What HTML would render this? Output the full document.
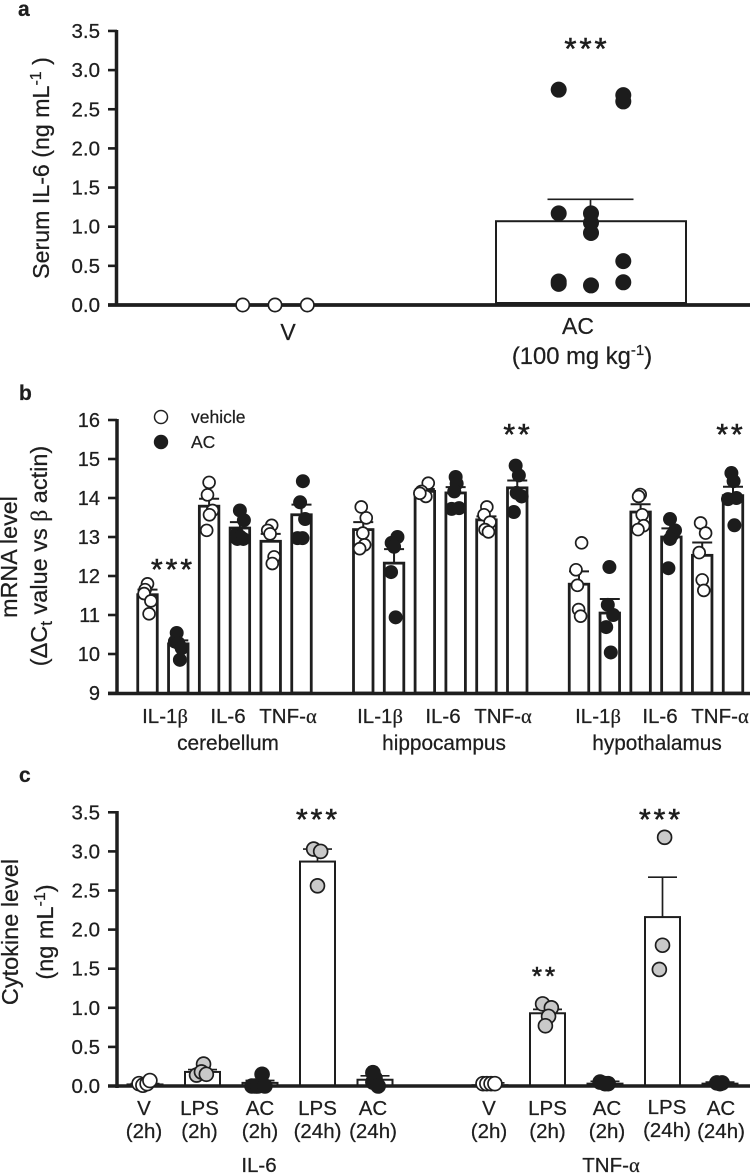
<!DOCTYPE html>
<html lang="en">
<head>
<meta charset="utf-8">
<title>Cytokine levels figure</title>
<style>
html,body{margin:0;padding:0;background:#fff;width:752px;height:1174px;overflow:hidden}
svg{display:block;font-family:"Liberation Sans",sans-serif;fill:#1e1e1e;filter:blur(0.3px)}
text{stroke:#1e1e1e;stroke-width:0.25px}
.gr{font-family:"Liberation Serif",serif}
</style>
</head>
<body>
<svg id="fig" xmlns="http://www.w3.org/2000/svg" width="752" height="1174" viewBox="0 0 752 1174">
  <text x="18" y="16" font-size="21" font-weight="bold">a</text>
  <text x="19" y="400" font-size="21" font-weight="bold">b</text>
  <text x="19" y="782" font-size="21" font-weight="bold">c</text>

  <text transform="translate(49,168) rotate(-90)" text-anchor="middle" font-size="23.2">Serum IL-6 (ng mL<tspan dy="-8" font-size="16">-1</tspan><tspan dy="8"> )</tspan></text>

  <text transform="translate(17,557) rotate(-90)" text-anchor="middle" font-size="23.3">mRNA level</text>
  <text transform="translate(47,556) rotate(-90)" text-anchor="middle" font-size="23.5">(ΔC<tspan dy="5" font-size="17">t</tspan><tspan dy="-5"> value vs </tspan><tspan class="gr">β</tspan> actin)</text>

  <text transform="translate(18,932) rotate(-90)" text-anchor="middle" font-size="23.5">Cytokine level</text>
  <text transform="translate(53,932) rotate(-90)" text-anchor="middle" font-size="23.5">(ng mL<tspan dy="-8" font-size="16">-1</tspan><tspan dy="8">)</tspan></text>

  <g>
    <circle cx="161" cy="417" r="6.5" fill="#fff" stroke="#222" stroke-width="1.5"></circle>
    <text x="191" y="423" font-size="17.5">vehicle</text>
    <circle cx="161" cy="442" r="7.2" fill="#1c1c1c"></circle>
    <text x="191" y="448" font-size="17.5">AC</text>
  </g>
</svg>
<script>
/* Panel a data */
const aTickLabels = ['0.0','0.5','1.0','1.5','2.0','2.5','3.0','3.5'];
const aMeans = [0, 1.07];
const aErrors = [0, 1.35];
const aPointsV = [0, 0, 0];
const aJitterV = [-0.17, 0, 0.17];
const aPointsAC = [2.75, 2.68, 2.6, 1.17, 1.17, 1.05, 0.92, 0.56, 0.3, 0.27, 0.25, 0.29];
const aJitterAC = [-0.17, 0.17, 0.17, -0.17, 0, 0, 0, 0.17, -0.17, -0.17, 0, 0.17];

/* Panel b data */
const bTickLabels = ['9','10','11','12','13','14','15','16'];
const bGroups = ['cerebellum','hippocampus','hypothalamus'];
const bMeans = [11.52,10.26,13.79,13.23,12.89,13.57, 13.19,12.33,14.17,14.13,13.44,14.26, 11.79,11.05,13.64,13.0,12.53,14.06];
const bErrors = [11.65,10.35,13.98,13.38,13.08,13.83, 13.38,12.69,14.23,14.28,13.53,14.45, 12.12,11.41,13.84,13.22,12.86,14.29];
const bPoints = [
  [11.8,11.65,11.55,11.36,11.03],[10.54,10.32,10.28,10.15,9.85],[14.4,14.08,13.68,13.57,13.17],
  [13.68,13.43,13.08,13.0,12.95,12.95],[13.3,13.17,13.08,12.49,12.32],[14.43,13.89,13.46,12.97,12.97],
  [13.77,13.49,13.1,12.8,12.7],[13.0,12.85,12.75,12.1,10.94],[14.38,14.17,14.04,14.12],
  [14.54,14.37,14.17,13.72,13.74],[13.77,13.57,13.38,13.19,13.13],[14.83,14.58,14.13,14.04,13.64],
  [12.85,12.16,11.76,11.14,10.97],[12.23,11.26,11.0,10.69,10.04],[14.09,14.04,13.57,13.29,13.19],
  [13.46,13.17,13.06,12.95,12.2],[13.36,13.1,12.6,11.9,11.63],[14.64,14.43,13.97,14.0,13.3]
];
const bJitter = [
  [0,-0.12,-0.17,0.17,0.08],[-0.08,-0.17,0,0.17,0.08],[0,-0.08,0.17,0.02,-0.12],
  [0,0.2,-0.13,0.03,-0.13,0.17],[0.05,-0.15,-0.03,0.17,0.08],[0.07,-0.07,0.18,-0.2,0.05],
  [-0.1,0.15,-0.02,0.07,-0.18],[0.17,-0.12,0,-0.15,0.08],[0.17,-0.17,0.05,-0.25],
  [0,0.05,-0.07,-0.2,0.17],[0.02,-0.12,0.18,-0.07,0.1],[-0.08,0.08,-0.03,0.22,-0.17],
  [0.13,-0.15,-0.08,-0.02,0.08],[-0.02,-0.1,0.17,-0.18,0.05],[-0.02,-0.1,0.08,0.15,-0.13],
  [-0.07,0.18,0.05,-0.07,-0.15],[-0.08,0.17,-0.15,0,0.08],[-0.08,0.03,-0.25,0.17,0.07]
];

/* Panel c data */
const cTickLabels = ['0.0','0.5','1.0','1.5','2.0','2.5','3.0','3.5'];
const cMeans = [0.02,0.18,0.04,2.87,0.08, 0.01,0.93,0.03,2.16,0.03];
const cErrors = [0.03,0.21,0.07,3.03,0.13, 0.04,0.98,0.06,2.67,0.05];
const cPoints = [
  [0.03,0.01,0.03,0.07],[0.28,0.14,0.18,0.15],[0,0,0,0.15,0],[3.03,3.0,2.56],[0.05,0.1,0.17,0],
  [0.03,0.03,0.03,0.03],[1.05,1.0,0.89,0.77],[0.05,0.03,0.03],[3.18,1.8,1.49],[0.04,0.04,0.03]
];
const cJitter = [
  [-0.17,-0.06,0.06,0.14],[0.03,-0.17,-0.03,0.11],[-0.23,-0.14,-0.06,0.06,0.14],[-0.11,0.09,0],[-0.06,0,-0.06,0.09],
  [-0.2,-0.09,0.03,0.14],[-0.14,0.11,0.03,-0.06],[-0.14,0.09,0],[0.06,0,-0.09],[-0.09,0.06,0]
];
const cXLabels = ['V','LPS','AC','LPS','AC','V','LPS','AC','LPS','AC'];
const cXSubLabels = ['(2h)','(2h)','(2h)','(24h)','(24h)','(2h)','(2h)','(2h)','(24h)','(24h)'];

const svg = document.getElementById('fig');
const NS = 'http://www.w3.org/2000/svg';
const INK = '#1e1e1e';
function mk(tag, attrs, parent) {
  const e = document.createElementNS(NS, tag);
  for (const k in attrs) e.setAttribute(k, attrs[k]);
  (parent || svg).appendChild(e);
  return e;
}

/* Axis functions */
const aY = v => 305 - v * 78.3;
const aX = i => 275 + i * 316;
const bY = v => 693 - (v - 9) * 39;
const bGroupStart = g => 147.5 + g * 215.75;
const bX = i => bGroupStart(Math.floor(i / 6)) + (i % 6) * 30.8;
const cY = v => 1086 - v * 78.2;
const cX = i => i < 5 ? 145 + i * 57.5 : 490 + (i - 5) * 57.5;

function axisLine(x1, y1, x2, y2, w, name) {
  const l = mk('line', {x1: x1, y1: y1, x2: x2, y2: y2, stroke: INK, 'stroke-width': w});
  
  
}
function tickLabel(txt, y, prefix, size) {
  const t = mk('text', {x: 100, y: y + 7, 'text-anchor': 'end', 'font-size': size});
  t.textContent = txt;
  
  
}
function drawBar(cx, w, yTop, yBase, sw, name) {
  const r = mk('rect', {x: cx - w / 2, y: yTop, width: w, height: Math.max(yBase - yTop, 0), fill: '#fff', stroke: INK, 'stroke-width': sw});
  
  
}
function drawError(cx, capW, yBar, yErr, sw, name) {
  const g = mk('g', {stroke: INK, 'stroke-width': sw});
  
  
  mk('line', {x1: cx, x2: cx, y1: yBar, y2: yErr}, g);
  mk('line', {x1: cx - capW / 2, x2: cx + capW / 2, y1: yErr, y2: yErr}, g);
}
function drawPoint(x, y, fill, radius, name) {
  const dark = fill === '#1c1c1c';
  const c = mk('circle', {cx: x, cy: y, r: dark ? radius : radius - 0.85, fill: fill, stroke: dark ? 'none' : INK, 'stroke-width': dark ? 0 : 1.7});
  
  
}
function stars(txt, x, y, size, name) {
  const t = mk('text', {x: x, y: y + size * 0.58, 'text-anchor': 'middle', 'font-size': size, 'letter-spacing': 3});
  t.textContent = txt;
  t.style.strokeWidth = '0.6px';
  
  
}
function label(txt, x, y, size, name) {
  const t = mk('text', {x: x, y: y, 'text-anchor': 'middle', 'font-size': size});
  t.textContent = txt;
  
  
  return t;
}
function greekLabel(pre, greek, x, y, size, name) {
  const t = mk('text', {x: x, y: y, 'text-anchor': 'middle', 'font-size': size});
  
  
  t.appendChild(document.createTextNode(pre));
  const s = mk('tspan', {class: 'gr'}, t);
  s.textContent = greek;
}

/* Panel a */
aTickLabels.forEach((txt) => {
  const v = parseFloat(txt);
  axisLine(108, aY(v), 117, aY(v), 2.6, 'panel-a-y-tick');
  tickLabel(txt, aY(v), 'panel-a', 20.5);
});
drawError(aX(1) - 0.5, 86, aY(aMeans[1]), aY(aErrors[1]), 1.7, 'panel-a-error-ac');
drawBar(aX(1), 190, aY(aMeans[1]), aY(0) - 2, 2, 'panel-a-bar-ac');
axisLine(116.5, 30, 116.5, 306.5, 3.5, 'panel-a-y-axis');
axisLine(108, 305, 750, 305, 3.8, 'panel-a-x-axis');
aPointsV.forEach((v, i) => drawPoint(aX(0) + aJitterV[i] * 190, aY(v), '#fff', 7.5, 'panel-a-point-v'));
aPointsAC.forEach((v, i) => drawPoint(aX(1) + aJitterAC[i] * 190, aY(v), '#1c1c1c', 8, 'panel-a-point-ac'));
stars('***', 587, 41, 31, 'panel-a-significance');
label('V', 288, 340, 23, 'panel-a-x-label-v');
label('AC', 578, 334, 23, 'panel-a-x-label-ac');
const acDose = label('(100 mg kg', 582, 364, 23.8, 'panel-a-x-label-dose');
const doseSup = mk('tspan', {dy: -9, 'font-size': 15}, acDose);
doseSup.textContent = '-1';
const doseEnd = mk('tspan', {dy: 9}, acDose);
doseEnd.textContent = ')';

/* Panel b */
bTickLabels.forEach(txt => {
  const v = parseFloat(txt);
  axisLine(108, bY(v), 117, bY(v), 2.6, 'panel-b-y-tick');
  tickLabel(txt, bY(v), 'panel-b', 20);
});
bMeans.forEach((m, i) => {
  drawError(bX(i), 20, bY(m), bY(bErrors[i]), 2, 'panel-b-error-' + i);
  drawBar(bX(i), 19.5, bY(m), bY(9), 2.8, 'panel-b-bar-' + i);
});
axisLine(117, 419, 117, 695, 3.5, 'panel-b-y-axis');
axisLine(108, 693.5, 750, 693.5, 3.4, 'panel-b-x-axis');
bPoints.forEach((pts, i) => {
  const vehicle = i % 2 === 0;
  pts.forEach((v, k) => drawPoint(bX(i) + bJitter[i][k] * 20, bY(v), vehicle ? '#fff' : '#1c1c1c', vehicle ? 6.8 : 7, vehicle ? 'panel-b-point-vehicle' : 'panel-b-point-ac'));
});
stars('***', 173, 562, 30, 'panel-b-significance-cerebellum');
stars('**', 518, 427, 30, 'panel-b-significance-hippocampus');
stars('**', 731, 427, 30, 'panel-b-significance-hypothalamus');
greekLabel('IL-1', 'β', 165, 723, 20.5, 'panel-b-label-il1b-cerebellum');
label('IL-6', 228, 723, 20.5, 'panel-b-label-il6-cerebellum');
greekLabel('TNF-', 'α', 288, 723, 20.5, 'panel-b-label-tnfa-cerebellum');
greekLabel('IL-1', 'β', 380, 723, 20.5, 'panel-b-label-il1b-hippocampus');
label('IL-6', 443, 723, 20.5, 'panel-b-label-il6-hippocampus');
greekLabel('TNF-', 'α', 503, 723, 20.5, 'panel-b-label-tnfa-hippocampus');
greekLabel('IL-1', 'β', 598, 723, 20.5, 'panel-b-label-il1b-hypothalamus');
label('IL-6', 660, 723, 20.5, 'panel-b-label-il6-hypothalamus');
greekLabel('TNF-', 'α', 720, 723, 20.5, 'panel-b-label-tnfa-hypothalamus');
label(bGroups[0], 228, 750, 20.8, 'panel-b-group-cerebellum');
label(bGroups[1], 444, 750, 20.8, 'panel-b-group-hippocampus');
label(bGroups[2], 657, 750, 20.8, 'panel-b-group-hypothalamus');

/* Panel c */
cTickLabels.forEach(txt => {
  const v = parseFloat(txt);
  axisLine(108, cY(v), 117, cY(v), 2.6, 'panel-c-y-tick');
  tickLabel(txt, cY(v), 'panel-c', 20.5);
});
cMeans.forEach((m, i) => {
  drawError(cX(i), 29, cY(m), cY(cErrors[i]), 1.7, 'panel-c-error-' + i);
  drawBar(cX(i), 35, cY(m), cY(0), 2, 'panel-c-bar-' + i);
});
axisLine(117, 811, 117, 1088, 3.5, 'panel-c-y-axis');
axisLine(108, 1086, 750, 1086, 3.4, 'panel-c-x-axis');
cPoints.forEach((pts, i) => {
  const kind = cXLabels[i];
  const fill = kind === 'V' ? '#fff' : kind === 'LPS' ? '#c9c9c9' : '#1c1c1c';
  pts.forEach((v, k) => drawPoint(cX(i) + cJitter[i][k] * 35, cY(v), fill, 7.8, 'panel-c-point-' + kind.toLowerCase()));
});
stars('***', 318, 812, 30, 'panel-c-significance-il6-lps24');
stars('***', 661, 812, 30, 'panel-c-significance-tnfa-lps24');
stars('**', 545, 970, 26, 'panel-c-significance-tnfa-lps2');
cXLabels.forEach((txt, i) => {
  const nudge = [-1,-3,0,0,-2, -1,0,2,4.5,1][i];
  label(txt, cX(i) + nudge, i === 8 ? 1114 : 1115, 20.5, 'panel-c-x-label-' + i);
  label(cXSubLabels[i], cX(i) + nudge, i === 8 ? 1137 : 1138, 20.5, 'panel-c-x-sublabel-' + i);
});
label('IL-6', 259, 1172, 20.5, 'panel-c-group-il6');
greekLabel('TNF-', 'α', 611, 1172, 20.5, 'panel-c-group-tnfa');
</script>
</body>
</html>
